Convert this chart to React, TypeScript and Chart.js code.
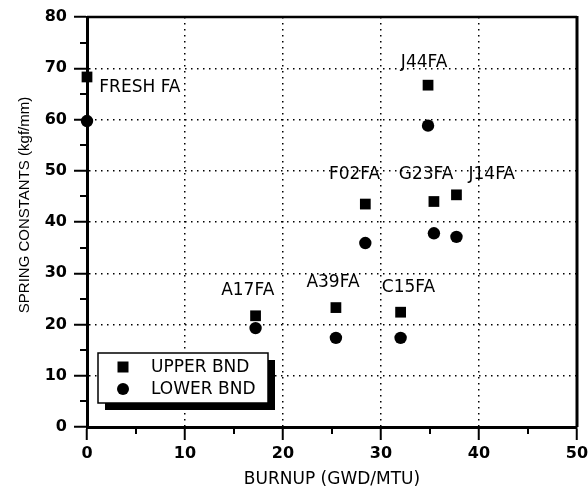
import React, { useEffect, useRef } from 'react';
import { Chart, registerables } from 'chart.js';
Chart.register(...registerables);

const seriesNames = ['UPPER BND', 'LOWER BND'];
const burnupUpper = [0, 17.2, 25.4, 32.0, 28.4, 34.8, 35.4, 37.7];
const upperValues = [68.3, 21.7, 23.3, 22.4, 43.5, 66.7, 44.0, 45.3];
const burnupLower = [0, 17.2, 25.4, 32.0, 28.4, 34.8, 35.4, 37.7];
const lowerValues = [59.7, 19.3, 17.4, 17.4, 35.9, 58.8, 37.8, 37.1];

const labelTexts = ['FRESH FA', 'A17FA', 'A39FA', 'C15FA', 'F02FA', 'J44FA', 'G23FA', 'J14FA'];
const labelX = [5.4, 16.4, 25.1, 32.8, 27.3, 34.4, 34.6, 41.3];
const labelY = [66.3, 26.7, 28.1, 27.3, 49.2, 71.2, 49.2, 49.2];

const xMin = 0, xMax = 50, xStep = 10, xMinorStep = 5;
const yMin = 0, yMax = 80, yStep = 10, yMinorStep = 5;
const xTitle = 'BURNUP (GWD/MTU)';
const yTitle = 'SPRING CONSTANTS (kgf/mm)';

const TEXT_FONT = '"DejaVu Sans", sans-serif';

const decor = {
  id: 'decor',
  afterDatasetsDraw(chart: any) {
    const { ctx, scales } = chart;
    const xs = scales.x, ys = scales.y;
    ctx.save();
    ctx.fillStyle = '#000';
    ctx.font = `17px ${TEXT_FONT}`;
    ctx.textAlign = 'center';
    ctx.textBaseline = 'middle';
    labelTexts.forEach((t, i) => {
      ctx.fillText(t, xs.getPixelForValue(labelX[i]), ys.getPixelForValue(labelY[i]));
    });
    ctx.restore();
  },
  afterDraw(chart: any) {
    const { ctx, chartArea, scales } = chart;
    const xs = scales.x, ys = scales.y;
    const { left, right, top, bottom } = chartArea;
    ctx.save();
    ctx.strokeStyle = '#000';
    // top & right frame
    ctx.lineWidth = 2.5;
    ctx.beginPath();
    ctx.moveTo(left, top);
    ctx.lineTo(right, top);
    ctx.stroke();
    ctx.lineWidth = 3;
    ctx.beginPath();
    ctx.moveTo(right, top - 1);
    ctx.lineTo(right, bottom);
    ctx.stroke();
    // minor ticks
    ctx.lineWidth = 2;
    for (let v = yMin + yMinorStep; v < yMax; v += yStep) {
      const p = Math.round(ys.getPixelForValue(v)) + 0;
      ctx.beginPath();
      ctx.moveTo(left - 7, p);
      ctx.lineTo(left, p);
      ctx.stroke();
    }
    for (let v = xMin + xMinorStep; v < xMax; v += xStep) {
      const p = Math.round(xs.getPixelForValue(v));
      ctx.beginPath();
      ctx.moveTo(p, bottom);
      ctx.lineTo(p, bottom + 7);
      ctx.stroke();
    }
    // y title
    ctx.save();
    ctx.translate(25, 205);
    ctx.rotate(-Math.PI / 2);
    ctx.fillStyle = '#000';
    ctx.font = '15px "Liberation Sans", Arial, sans-serif';
    ctx.textAlign = 'center';
    ctx.textBaseline = 'middle';
    ctx.fillText(yTitle, 0, 0);
    ctx.restore();
    // legend
    const bx = left + 11, by = bottom - 74, bw = 170, bh = 50;
    ctx.fillStyle = '#000';
    ctx.fillRect(bx + 7, by + 7, bw, bh);
    ctx.fillStyle = '#fff';
    ctx.fillRect(bx, by, bw, bh);
    ctx.lineWidth = 1.5;
    ctx.strokeRect(bx, by, bw, bh);
    const ds = chart.data.datasets;
    ctx.fillStyle = '#000';
    ctx.font = `17px ${TEXT_FONT}`;
    ctx.textAlign = 'left';
    ctx.textBaseline = 'middle';
    ds.forEach((d: any, i: number) => {
      const cy = by + 14 + i * 22;
      const cx = bx + 25;
      ctx.beginPath();
      if (d.pointStyle === 'rect') {
        ctx.rect(cx - 5.5, cy - 5.5, 11, 11);
      } else {
        ctx.arc(cx, cy, 6, 0, Math.PI * 2);
      }
      ctx.fill();
      ctx.fillText(d.label, bx + 53, cy + 1);
    });
    ctx.restore();
  },
};

export default function App() {
  const ref = useRef<HTMLCanvasElement>(null);
  useEffect(() => {
    if (!ref.current) return;
    const chart = new Chart(ref.current, {
      type: 'scatter',
      data: {
        datasets: [
          {
            label: seriesNames[0],
            data: burnupUpper.map((x, i) => ({ x, y: upperValues[i] })),
            pointStyle: 'rect',
            pointRadius: 7.6,
            pointBorderWidth: 0,
            backgroundColor: '#000',
            borderColor: '#000',
            clip: false,
          } as any,
          {
            label: seriesNames[1],
            data: burnupLower.map((x, i) => ({ x, y: lowerValues[i] })),
            pointStyle: 'circle',
            pointRadius: 6.2,
            pointBorderWidth: 0,
            backgroundColor: '#000',
            borderColor: '#000',
            clip: false,
          } as any,
        ],
      },
      options: {
        animation: false,
        responsive: false,
        devicePixelRatio: 1,
        layout: { padding: { top: 17, right: 11, bottom: 0, left: 0 } },
        plugins: { legend: { display: false }, tooltip: { enabled: false } },
        scales: {
          x: {
            type: 'linear',
            min: xMin,
            max: xMax,
            afterFit(s: any) {
              s.height = 65;
              s.paddingLeft = 0;
              s.paddingRight = 0;
            },
            ticks: {
              stepSize: xStep,
              color: '#000',
              padding: 4,
              maxRotation: 0,
              font: { family: TEXT_FONT, size: 16, weight: 'bold' },
            },
            grid: {
              color: (c: any) => (c.tick && (c.tick.value === xMin || c.tick.value === xMax) ? 'rgba(0,0,0,0)' : '#000'),
              lineWidth: 1.5,
              tickLength: 13,
              tickColor: '#000',
              tickWidth: 2,
              tickBorderDash: [],
            },
            border: { display: true, color: '#000', width: 3, dash: [1.5, 4.5] },
            title: {
              display: true,
              text: xTitle,
              color: '#000',
              font: { family: TEXT_FONT, size: 17 },
              padding: { top: 0, bottom: 2 },
            },
          },
          y: {
            type: 'linear',
            min: yMin,
            max: yMax,
            afterFit(s: any) {
              s.width = 87;
              s.paddingTop = 0;
              s.paddingBottom = 0;
            },
            ticks: {
              stepSize: yStep,
              color: '#000',
              padding: 7,
              font: { family: TEXT_FONT, size: 16, weight: 'bold' },
            },
            grid: {
              color: (c: any) => (c.tick && (c.tick.value === yMin || c.tick.value === yMax) ? 'rgba(0,0,0,0)' : '#000'),
              lineWidth: 1.5,
              tickLength: 13,
              tickColor: '#000',
              tickWidth: 2,
              tickBorderDash: [],
            },
            border: { display: true, color: '#000', width: 3, dash: [1.5, 4.5] },
          },
        },
      },
      plugins: [decor],
    });
    return () => chart.destroy();
  }, []);
  return (
    <div style={{ position: 'absolute', left: 0, top: 0, width: 588, height: 492, background: '#fff' }}>
      <canvas ref={ref} width={588} height={492} />
    </div>
  );
}
